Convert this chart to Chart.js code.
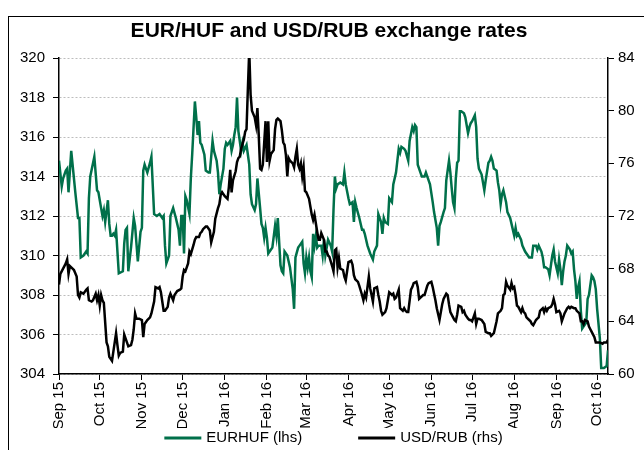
<!DOCTYPE html>
<html>
<head>
<meta charset="utf-8">
<script src="https://cdn.jsdelivr.net/npm/chart.js@4"></script>
<style>
  html, body { margin: 0; padding: 0; background: #fff; }
  #wrap { width: 644px; height: 450px; }
</style>
</head>
<body>
<div id="wrap"><canvas id="fx-chart" width="644" height="450"></canvas></div>
<script>
var chartTitle = 'EUR/HUF and USD/RUB exchange rates';

// x positions are days counted from 1 Sep 2015
var monthLabels = ['Sep 15', 'Oct 15', 'Nov 15', 'Dec 15', 'Jan 16', 'Feb 16', 'Mar 16',
                   'Apr 16', 'May 16', 'Jun 16', 'Jul 16', 'Aug 16', 'Sep 16', 'Oct 16'];
var monthDays = [0, 30, 61, 91, 122, 153, 182, 213, 243, 274, 304, 335, 366, 396];

var hufDays = [0,2,3,5,6,7,9,10,12,14,15,16,18,20,21,22,23,26,28,29,31,32,33,34,36,37,38,39,40,41,42,44,47,48,49,50,51,53,55,56,58,60,61,62,63,65,67,68,70,72,74,76,77,78,79,81,82,84,86,87,88,89,90,91,92,93,94,96,97,98,100,
  101,102,103,104,105,107,108,110,111,113,114,116,117,118,119,121,122,123,124,126,127,128,129,130,131,132,133,134,135,136,138,139,140,141,142,144,145,146,148,149,150,151,152,153,154,156,157,159,160,161,163,164,165,166,168,169,170,172,173,174,176,177,179,180,181,182,183,184,185,186,187,188,189,190,191,193,194,195,196,198,200,
  201,202,203,204,205,207,209,210,211,213,214,216,217,218,219,221,223,224,225,227,229,231,232,234,235,237,238,239,240,242,243,245,246,248,249,250,251,252,254,255,257,258,260,261,262,263,264,266,267,269,270,272,273,275,276,277,278,279,280,281,283,284,285,287,288,289,290,291,292,293,294,295,296,298,299,
  301,302,303,304,306,307,308,309,311,313,314,316,317,318,319,320,322,323,324,325,326,327,329,330,332,333,335,336,337,338,340,341,343,345,346,348,349,350,351,352,353,355,356,357,358,360,361,363,364,365,367,368,369,370,371,372,373,374,376,377,378,379,380,381,382,383,384,385,387,388,389,390,392,393,394,395,396,398,399,401,403,404];
var hufRates = [314.8,313.5,313.9,314.3,314.4,313.2,315.3,314.6,313.2,311.9,311.9,309.9,310.0,310.2,310.1,312.9,314.0,315.0,313.3,313.2,312.4,312.0,312.3,311.7,312.8,311.6,311.0,311.0,311.1,311.0,311.3,309.1,309.2,310.6,311.3,311.4,309.2,310.4,311.9,311.5,309.7,311.2,311.4,314.3,314.6,314.2,314.7,315.0,312.1,312.0,312.1,311.9,312.0,310.5,309.6,310.0,312.0,312.4,311.9,311.6,311.3,310.5,312.0,312.0,310.1,313.0,312.8,312.1,313.9,315.1,317.8,
  317.0,316.1,316.8,315.7,315.6,315.1,314.3,314.2,314.2,315.8,315.3,314.8,314.2,313.1,313.6,314.4,315.4,315.7,315.6,315.8,315.3,315.6,316.1,316.5,318.0,316.3,315.8,315.3,315.7,315.3,315.6,315.1,314.6,313.1,312.6,312.3,312.6,313.9,312.4,311.6,311.4,310.9,311.4,310.9,310.1,310.3,310.4,311.5,311.0,311.9,309.5,309.2,309.1,310.2,310.0,309.7,309.4,308.3,307.3,309.9,310.4,310.5,310.7,309.6,309.1,309.9,309.4,309.9,309.2,308.9,311.1,310.5,311.0,310.4,310.5,310.5,310.0,310.8,310.0,310.8,310.5,
  310.2,312.3,314.0,313.4,313.6,313.7,313.6,314.2,313.6,312.9,312.6,312.7,311.7,312.7,312.4,311.9,311.3,311.3,311.1,310.5,310.1,309.8,310.2,310.5,312.1,311.7,311.1,311.9,311.7,311.6,312.9,312.7,313.6,314.2,314.8,315.4,315.2,315.5,315.4,315.3,314.8,315.8,316.5,316.3,316.6,316.5,314.6,314.2,314.0,314.0,314.2,313.8,313.6,312.7,312.2,311.8,311.4,310.5,311.5,311.7,312.2,312.4,313.8,314.8,314.2,313.4,312.7,312.4,313.9,314.7,314.8,317.3,317.3,317.2,317.0,
  316.2,316.5,316.7,316.8,317.1,316.5,314.9,314.4,314.1,313.3,313.8,314.7,314.8,315.0,314.8,314.4,314.3,313.7,313.3,312.6,313.1,313.3,312.7,312.2,311.9,311.6,311.0,311.4,311.0,311.1,310.8,310.5,310.2,310.0,309.9,309.9,310.5,310.5,310.5,310.3,310.5,310.2,309.9,309.4,309.4,309.3,309.0,310.0,310.3,309.7,309.1,309.8,309.3,308.5,309.2,309.7,310.0,310.5,310.3,310.1,310.2,309.3,308.7,307.8,308.4,308.7,307.2,306.3,306.5,306.6,307.8,308.0,309.0,308.9,308.7,308.3,307.3,305.8,304.3,304.3,304.4,305.2];

var rubDays = [0,1,3,5,6,7,8,10,11,13,14,15,16,18,20,21,22,24,25,27,28,29,30,31,32,33,35,36,37,39,40,42,43,44,45,47,48,50,51,53,54,55,56,57,59,61,62,63,65,67,68,70,71,73,74,75,77,78,80,81,82,84,85,87,89,90,91,92,93,95,96,97,99,100,
  101,103,104,105,106,108,109,111,112,114,115,117,118,119,120,122,124,125,126,127,128,130,131,132,133,134,136,137,138,139,140,141,142,144,145,146,147,148,149,150,152,153,154,155,156,158,159,160,161,163,164,165,166,167,168,169,170,172,173,174,175,176,177,178,179,180,181,182,184,185,186,187,188,190,191,192,193,195,196,197,198,199,
  201,202,203,204,205,206,207,209,210,211,212,213,215,216,217,218,220,221,223,224,225,226,227,228,229,230,231,232,234,235,236,237,238,240,241,242,243,245,246,247,248,249,250,251,253,254,255,256,257,259,260,261,263,264,265,266,268,269,271,272,274,275,276,277,278,280,281,282,283,285,286,287,288,290,291,292,293,294,296,297,298,299,
  301,302,303,304,306,307,308,309,311,313,314,316,317,318,320,322,323,325,326,327,328,329,330,332,333,334,335,336,337,338,340,341,342,343,344,346,347,348,349,351,352,353,354,356,357,358,359,360,362,363,364,365,366,368,369,370,371,372,374,375,376,377,379,380,381,383,384,385,386,387,389,390,391,392,394,395,396,398,400,401,403,404];
var rubRates = [66.8,67.6,68.0,68.4,68.7,67.6,68.2,68.0,67.9,67.4,66.0,65.8,66.2,66.1,66.4,66.5,65.6,65.5,65.6,66.1,65.6,66.0,65.2,66.0,65.6,65.4,62.4,62.1,61.3,61.0,61.7,63.1,62.2,61.4,61.6,61.7,63.0,62.4,62.1,62.2,62.6,63.4,64.6,64.2,64.2,64.1,62.8,63.8,64.1,64.3,64.6,65.5,66.6,66.5,66.6,66.2,64.8,64.8,65.1,65.8,66.1,65.6,66.0,66.3,66.4,66.5,67.4,67.9,67.8,68.4,69.3,69.1,69.8,70.2,
  70.4,70.4,70.7,70.8,71.0,71.2,71.2,70.9,70.0,70.8,71.8,72.6,72.9,73.6,73.8,73.5,73.3,74.2,75.5,73.8,74.7,75.4,76.1,76.4,76.5,77.1,77.8,78.4,78.6,81.7,84.6,81.2,80.0,79.5,78.9,80.2,78.1,75.6,75.5,75.9,79.2,76.1,79.2,76.2,76.7,77.0,78.6,79.3,79.4,79.2,78.5,77.6,77.4,76.6,75.0,76.4,76.2,76.0,75.7,76.5,77.1,75.9,75.6,76.0,75.0,75.7,73.9,73.8,73.3,72.7,72.1,71.7,72.1,70.8,70.2,70.2,70.7,70.2,69.3,69.3,69.0,68.9,
  68.2,67.8,69.4,69.5,68.1,68.8,68.0,67.9,67.4,67.1,67.8,68.5,68.6,68.3,67.5,67.2,67.0,66.7,66.0,65.6,66.1,65.8,66.6,67.4,66.5,66.0,65.5,66.5,66.6,66.0,65.5,64.8,64.5,64.7,65.0,65.6,66.2,66.0,66.1,65.7,65.8,66.1,66.4,65.0,64.8,65.0,64.8,64.7,64.7,66.4,66.6,66.9,67.0,66.6,65.7,65.8,66.0,66.0,66.7,66.9,67.0,66.6,66.1,65.6,65.0,64.1,64.7,65.3,65.7,66.1,66.0,65.3,64.7,64.3,64.1,64.0,64.5,65.2,65.1,64.7,64.8,64.5,
  64.2,64.1,64.1,64.0,64.6,63.8,64.2,64.2,64.1,63.8,63.2,63.1,63.1,62.9,63.1,64.0,64.6,64.8,65.0,66.0,66.1,67.0,66.7,66.4,66.9,66.5,66.6,66.0,65.2,65.1,64.7,65.0,64.7,64.6,64.3,64.1,64.0,63.8,63.7,64.1,64.2,64.3,64.8,65.0,64.7,65.0,64.8,65.0,65.1,65.3,65.7,65.3,64.7,64.8,64.6,64.0,64.3,64.6,65.0,65.1,65.0,65.1,65.0,65.0,64.8,64.6,64.0,64.0,63.8,64.1,64.0,63.6,63.4,63.2,62.8,62.4,62.4,62.4,62.3,62.4,62.4,62.6];

var green = '#00704a';
var fontFamily = "'Liberation Sans', Arial, sans-serif";

function toPoints(days, values) {
  return days.map(function(d, i) { return { x: d, y: values[i] }; });
}

// frame, title and legend drawn straight onto the canvas
var decorations = {
  id: 'decorations',
  beforeDraw: function(chart) {
    var ctx = chart.ctx;
    ctx.save();
    ctx.fillStyle = '#fff';
    ctx.fillRect(0, 0, chart.width, chart.height);
    ctx.strokeStyle = '#000';
    ctx.lineWidth = 1;
    ctx.strokeRect(8.5, 16.5, 900, 900);
    ctx.restore();
  },
  afterDraw: function(chart) {
    var ctx = chart.ctx;
    var area = chart.chartArea;
    ctx.save();
    ctx.fillStyle = '#000';
    ctx.textBaseline = 'middle';
    ctx.textAlign = 'center';
    ctx.font = 'bold 21px ' + fontFamily;
    ctx.fillText(chartTitle, 329, 31);

    ctx.font = '15px ' + fontFamily;
    ctx.textAlign = 'left';
    var lineLen = 37, gap = 5, spacing = 56;
    var sets = chart.data.datasets;
    var widths = sets.map(function(ds) { return lineLen + gap + ctx.measureText(ds.label).width; });
    var total = widths.reduce(function(a, b) { return a + b; }, 0) + spacing * (sets.length - 1);
    var x = (area.left + area.right) / 2 - total / 2;
    var y = 438;
    sets.forEach(function(ds, i) {
      ctx.strokeStyle = ds.borderColor;
      ctx.lineWidth = 3;
      ctx.beginPath();
      ctx.moveTo(x, y);
      ctx.lineTo(x + lineLen, y);
      ctx.stroke();
      ctx.fillText(ds.label, x + lineLen + gap, y);
      x += widths[i] + spacing;
    });
    ctx.restore();
  }
};

new Chart(document.getElementById('fx-chart'), {
  type: 'line',
  data: {
    datasets: [
      {
        label: 'EURHUF (lhs)',
        data: toPoints(hufDays, hufRates),
        yAxisID: 'y',
        borderColor: green,
        backgroundColor: green,
        borderWidth: 2.5,
        pointRadius: 0,
        tension: 0,
        order: 2
      },
      {
        label: 'USD/RUB (rhs)',
        data: toPoints(rubDays, rubRates),
        yAxisID: 'y1',
        borderColor: '#000',
        backgroundColor: '#000',
        borderWidth: 2.5,
        pointRadius: 0,
        tension: 0,
        order: 1
      }
    ]
  },
  options: {
    responsive: false,
    animation: false,
    events: [],
    layout: { padding: { top: 58, bottom: 22, left: 0, right: 0 } },
    plugins: {
      legend: { display: false },
      title: { display: false },
      tooltip: { enabled: false }
    },
    scales: {
      x: {
        type: 'linear',
        min: 0,
        max: 404,
        afterBuildTicks: function(scale) {
          scale.ticks = monthDays.map(function(d) { return { value: d }; });
        },
        afterFit: function(scale) { scale.height = 54; },
        ticks: {
          autoSkip: false,
          minRotation: 90,
          maxRotation: 90,
          padding: 2,
          color: '#000',
          font: { family: fontFamily, size: 15 },
          callback: function(value) { return monthLabels[monthDays.indexOf(value)]; }
        },
        grid: { drawOnChartArea: false, tickLength: 6, tickColor: '#000' },
        border: { color: '#000', width: 1.5 }
      },
      y: {
        position: 'left',
        min: 304,
        max: 320,
        afterFit: function(scale) { scale.width = 59; },
        ticks: {
          stepSize: 2,
          padding: 8,
          color: '#000',
          font: { family: fontFamily, size: 15 }
        },
        grid: { color: '#bdbdbd', lineWidth: 1, tickLength: 6, tickColor: '#000' },
        border: { color: '#000', width: 1.5, dash: [2, 2] }
      },
      y1: {
        position: 'right',
        min: 60,
        max: 84,
        afterFit: function(scale) { scale.width = 36; },
        ticks: {
          stepSize: 4,
          padding: 4,
          color: '#000',
          font: { family: fontFamily, size: 15 }
        },
        grid: { drawOnChartArea: false, tickLength: 6, tickColor: '#000' },
        border: { color: '#000', width: 1.5 }
      }
    }
  },
  plugins: [decorations]
});
</script>
</body>
</html>
